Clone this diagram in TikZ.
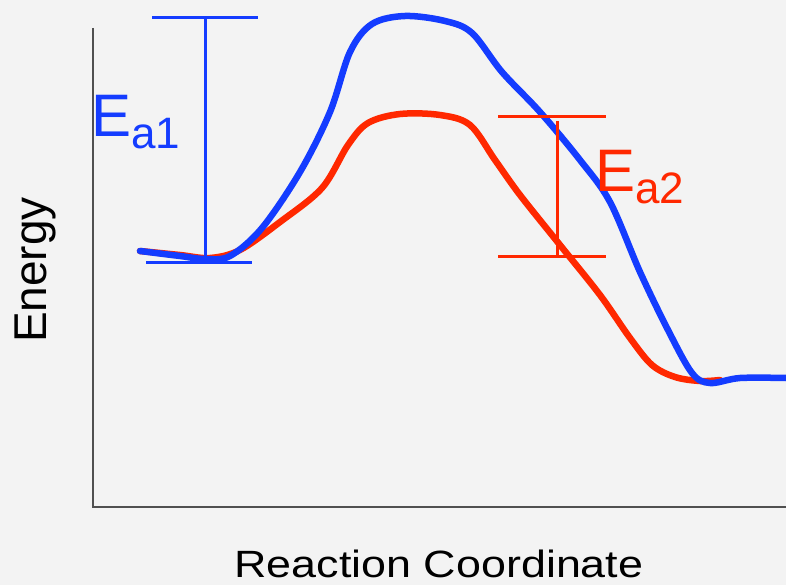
\documentclass[tikz,border=0pt]{standalone}
\usepackage{fontspec}
\setmainfont{Liberation Sans}
\usetikzlibrary{positioning}
\definecolor{paper}{RGB}{243,243,243}
\definecolor{axisgray}{RGB}{80,80,80}
\definecolor{curveblue}{RGB}{20,60,255}
\definecolor{curvered}{RGB}{255,40,0}

\begin{document}
\begin{tikzpicture}[
    x=1pt, y=-1pt,
    axis/.style={draw=axisgray, line width=1.8pt},
    curve/.style={line width=6.5pt, line cap=round, line join=round},
    bar/.style={line width=3pt},
    title/.style={font=\fontsize{38}{38}\selectfont, text=black},
    ea/.style={font=\fontsize{60}{60}\selectfont, anchor=base west, inner sep=0pt}
]
\fill[paper] (0,0) rectangle (786,585);
\useasboundingbox (0,0) rectangle (786,585);

% axes
\coordinate (origin) at (93,507);
\coordinate (ytop) at (93,28);
\coordinate (xend) at (786,507);
\draw[axis] (ytop) -- (origin) -- (xend);

% red curve (catalysed)
\draw[curve, curvered] plot[smooth, tension=0.55] coordinates {
    (140,251) (180,255) (210,258) (240,250) (280,222) (322,188)
    (348,145) (368,123) (400,114) (440,115) (470,125) (495,160)
    (520,195) (560,245) (600,295) (630,338) (652,365) (675,377)
    (700,381) (720,380)};

% blue curve
\draw[curve, curveblue] plot[smooth, tension=0.55] coordinates {
    (140,251) (180,256) (205,259) (230,256) (262,228) (300,172)
    (330,112) (350,52) (372,24) (405,16) (445,21) (472,33)
    (502,72) (540,112) (580,160) (610,202) (640,272) (668,330)
    (692,373) (710,383) (740,378) (786,378)};

% Ea1 bar
\coordinate (ea1top) at (205,18);
\coordinate (ea1bot) at (205,259);
\draw[bar, curveblue] (152,18) -- (258,18);
\draw[bar, curveblue] (ea1top) -- (ea1bot);
\draw[bar, curveblue] (146,262) -- (252,262);
\node[ea, text=curveblue] (ea1) at (91,137) {E\raisebox{-12pt}{\fontsize{44}{44}\selectfont a1}};

% Ea2 bar
\coordinate (ea2top) at (557,121);
\coordinate (ea2bot) at (557,255);
\draw[bar, curvered] (498,117) -- (606,117);
\draw[bar, curvered] (ea2top) -- (ea2bot);
\draw[bar, curvered] (498,256) -- (606,256);
\node[ea, text=curvered] (ea2) at (595,192) {E\raisebox{-12pt}{\fontsize{44}{44}\selectfont a2}};

% axis titles
\node[title, xscale=1.18] (xlabel) at (439,564) {Reaction Coordinate};
\node[title, font=\fontsize{46}{46}\selectfont, rotate=90] (ylabel) at (35,270) {Energy};
\end{tikzpicture}
\end{document}
